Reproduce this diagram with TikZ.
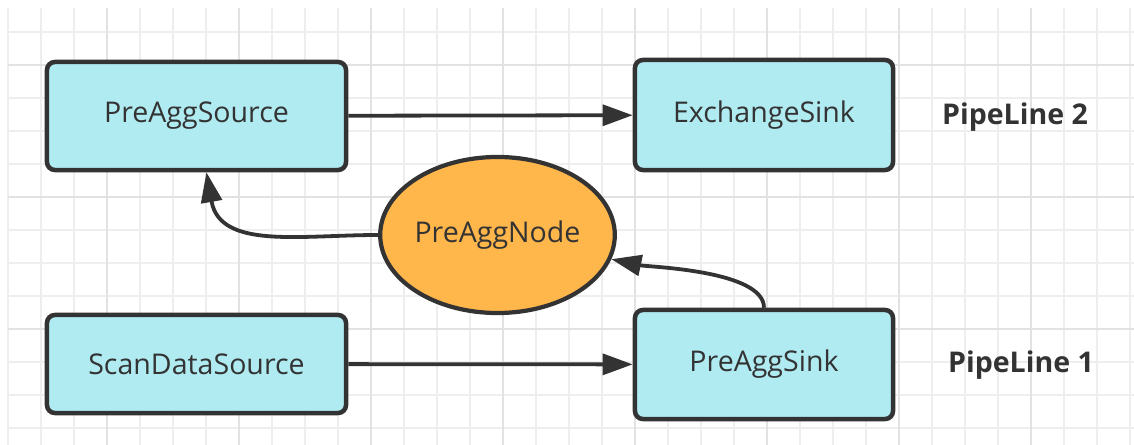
\documentclass[tikz,border=0pt]{standalone}
\usepackage{fontspec}
\setmainfont{Open Sans}
\usetikzlibrary{arrows.meta,shapes.geometric}
\definecolor{boxcyan}{HTML}{B0EBF2}
\definecolor{nodeorange}{HTML}{FFB64B}
\definecolor{linegray}{HTML}{333333}
\definecolor{gridminor}{HTML}{EEEEEE}
\definecolor{gridmajor}{HTML}{E2E2E2}
\newcommand{\opfont}{\fontsize{20.3}{24}\selectfont}
\tikzstyle{opbox}=[rectangle,rounded corners=0.2cm,draw=linegray,line width=3.2pt,fill=boxcyan,text=linegray,font=\opfont,inner sep=0pt]
\tikzstyle{aggnode}=[ellipse,draw=linegray,line width=3pt,fill=nodeorange,text=linegray,font=\opfont,inner sep=0pt]
\tikzstyle{pipelabel}=[text=linegray,font=\opfont\bfseries]
\tikzstyle{flow}=[draw=linegray,line width=2.7pt,-{Triangle[length=0.75cm,width=0.52cm]}]
\tikzstyle{gridline}=[draw=gridminor,line width=0.9pt]
\tikzstyle{gridbold}=[draw=gridmajor,line width=1pt]

\begin{document}
\begin{tikzpicture}[x=0.025cm,y=-0.025cm]

    \useasboundingbox (0,0) rectangle (1134,445);

    % background grid
    \foreach \k in {0,...,34}
        \path[gridline] ({8+33*\k},8) -- ({8+33*\k},445);
    \foreach \j in {0,...,12}
        \path[gridline] (8,{32+33*\j}) -- (1134,{32+33*\j});
    \foreach \k in {3,7,...,31}
        \path[gridbold] ({8+33*\k},8) -- ({8+33*\k},445);
    \foreach \j in {1,5,9}
        \path[gridbold] (8,{32+33*\j}) -- (1134,{32+33*\j});

    % operators
    \foreach \pos/\name/\w/\h/\txt in {{(196.5,116)/src/7.475/2.7/PreAggSource},
        {(764,115)/exsink/6.45/2.75/ExchangeSink},
        {(196.5,364)/scan/7.475/2.45/ScanDataSource},
        {(764,364.5)/aggsink/6.45/2.725/PreAggSink}}
        \node[opbox,minimum width=\w cm,minimum height=\h cm] (\name) at \pos {\txt};

    \node[aggnode,minimum width=5.675cm,minimum height=3.9cm] (agg) at (497.5,235) {PreAggNode};

    % edges
    \path[flow] (src) -- (exsink);
    \path[flow] (scan) -- (aggsink);
    \path[flow] (aggsink.north) to[out=90,in=-12,looseness=0.6] (agg);
    \path[flow] (agg) to[out=180,in=-80,looseness=1.1] (src);

    % Label
    \node[pipelabel] (pl2) at (1015,117) {PipeLine 2};
    \node[pipelabel] (pl1) at (1021,365) {PipeLine 1};

\end{tikzpicture}
\end{document}
